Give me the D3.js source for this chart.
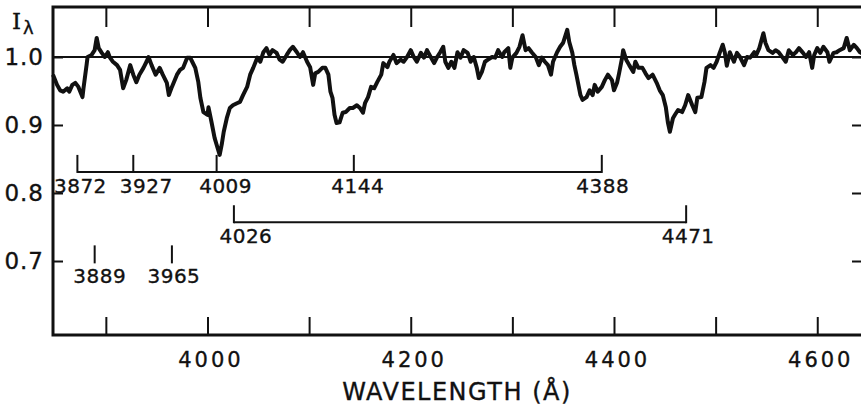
<!DOCTYPE html>
<html>
<head>
<meta charset="utf-8">
<script src="https://cdn.jsdelivr.net/npm/d3@7"></script>
<style>
  body { margin: 0; background: #fff; }
  svg { display: block; }
  text { font-family: "DejaVu Sans", sans-serif; fill: #111; stroke: #111; stroke-width: 0.35px; }
</style>
</head>
<body>
<div id="chart"></div>
<script>
// spectrum (wavelength in angstrom, relative intensity)
let wavelength = [3848,3852,3855,3858,3862,3864,3867,3870,3873,3877,3878,3881,3882,3886,3889,3891,3893,3896,3899,3902,
  3904,3907,3911,3914,3917,3920,3924,3927,3930,3933,3937,3940,3942,3945,3949,3953,3956,3960,3962,3965,
  3970,3973,3976,3980,3983,3985,3988,3991,3993,3996,4000,4001,4004,4007,4009,4012,4014,4016,4019,4022,
  4025,4029,4032,4035,4039,4042,4045,4049,4052,4055,4058,4061,4064,4068,4071,4074,4078,4081,4084,4088,
  4091,4094,4098,4101,4104,4106,4109,4113,4116,4119,4121,4123,4125,4127,4130,4133,4136,4140,4143,4147,
  4150,4153,4155,4158,4161,4164,4167,4171,4173,4177,4179,4183,4186,4190,4193,4196,4200,4203,4206,4210,
  4213,4216,4220,4223,4226,4229,4232,4234,4237,4240,4243,4246,4249,4252,4256,4259,4262,4265,4267,4270,
  4273,4276,4280,4283,4286,4290,4292,4296,4298,4300,4304,4307,4310,4313,4316,4319,4323,4326,4329,4332,
  4335,4338,4340,4344,4347,4350,4354,4356,4359,4361,4363,4365,4367,4369,4373,4376,4379,4381,4384,4388,
  4391,4394,4398,4400,4403,4405,4408,4409,4412,4415,4419,4421,4424,4428,4431,4434,4438,4442,4445,4448,
  4451,4453,4455,4458,4460,4463,4467,4470,4473,4477,4480,4482,4486,4489,4491,4495,4498,4501,4504,4507,
  4509,4511,4514,4518,4521,4524,4528,4531,4534,4538,4540,4543,4547,4549,4552,4556,4559,4562,4566,4569,
  4572,4576,4579,4582,4586,4589,4592,4595,4597,4600,4603,4606,4610,4612,4616,4619,4622,4626,4629,4632,
  4636,4639,4642,4646];
let intensity = [0.974,0.959,0.951,0.949,0.954,0.949,0.959,0.962,0.956,0.941,0.954,0.988,1.000,1.003,1.010,1.028,1.013,1.006,1.000,1.007,
  0.999,0.993,0.988,0.981,0.954,0.966,0.988,0.974,0.963,0.974,0.984,0.993,1.000,0.988,0.974,0.984,0.974,0.962,0.944,0.956,
  0.974,0.981,0.984,0.999,0.999,0.993,0.984,0.963,0.940,0.919,0.915,0.926,0.904,0.881,0.871,0.856,0.871,0.890,0.910,0.925,
  0.929,0.932,0.934,0.944,0.956,0.974,0.984,0.999,0.993,1.007,1.013,1.003,1.010,1.006,0.996,0.993,1.003,1.010,1.015,1.007,
  1.000,1.007,0.993,0.985,0.959,0.976,0.978,0.984,0.984,0.974,0.949,0.940,0.915,0.903,0.904,0.918,0.919,0.925,0.925,0.929,
  0.925,0.918,0.932,0.941,0.956,0.954,0.963,0.974,0.991,0.985,0.993,1.003,0.991,0.996,0.993,0.999,1.010,1.000,0.993,1.006,
  0.999,1.010,0.999,0.991,1.000,1.007,1.015,0.993,0.984,0.993,0.984,1.007,0.999,1.010,1.006,0.993,1.000,0.984,0.969,0.978,
  0.993,0.996,1.000,0.999,1.010,1.000,1.007,1.013,0.984,0.999,1.006,1.015,1.032,1.010,1.013,1.007,1.000,0.988,0.999,0.993,
  0.988,0.974,0.993,1.007,1.015,1.021,1.040,1.022,1.006,0.988,0.974,0.959,0.944,0.937,0.941,0.951,0.944,0.959,0.949,0.956,
  0.966,0.974,0.966,0.951,0.962,0.976,0.999,1.010,0.996,0.988,0.978,0.993,0.984,0.984,0.976,0.969,0.974,0.962,0.951,0.944,
  0.926,0.904,0.890,0.910,0.915,0.922,0.919,0.929,0.944,0.929,0.919,0.940,0.941,0.963,0.984,0.988,0.984,0.993,1.006,1.018,
  1.007,0.987,1.007,0.993,1.006,1.000,0.988,1.000,0.999,1.007,1.003,1.013,1.035,1.021,1.010,1.006,1.010,1.007,0.999,0.993,
  1.010,1.003,1.007,1.013,1.006,1.000,1.007,0.984,1.003,1.013,1.006,1.015,1.007,0.993,1.006,1.007,1.010,1.013,1.028,1.010,
  1.018,1.013,1.007,1.004];

// line identifications
let seriesA = [3872, 3927, 4009, 4144, 4388];
let seriesB = [4026, 4471];
let singles = [3889, 3965];

let xTicks = [3900, 4000, 4100, 4200, 4300, 4400, 4500, 4600];
let xLabels = [4000, 4200, 4400, 4600];
let yTicks = [0.7, 0.8, 0.9, 1.0];

const W = 861, H = 406;
const plotL = 53, plotR = 864, plotT = 7, plotB = 335;

let svg = d3.select("#chart").append("svg")
  .attr("width", W).attr("height", H);

let x = d3.scaleLinear().domain([3848, 4646]).range([plotL, plotR]);
let y = d3.scaleLinear().domain([0.5912, 1.0735]).range([plotB, plotT]);

// frame
svg.append("rect")
  .attr("x", plotL).attr("y", plotT)
  .attr("width", plotR - plotL).attr("height", plotB - plotT)
  .attr("fill", "none").attr("stroke", "#111").attr("stroke-width", 3);

// continuum at 1.0
svg.append("line")
  .attr("x1", plotL).attr("x2", plotR)
  .attr("y1", y(1.0)).attr("y2", y(1.0))
  .attr("stroke", "#111").attr("stroke-width", 2);

function styleAxis(g) {
  g.select(".domain").remove();
  g.selectAll(".tick line").attr("stroke", "#111").attr("stroke-width", 2);
}

// bottom axis
svg.append("g")
  .attr("transform", "translate(0," + plotB + ")")
  .call(d3.axisBottom(x).tickValues(xTicks).tickSize(-18).tickPadding(17)
    .tickFormat(d => xLabels.includes(d) ? d : ""))
  .call(styleAxis)
  .call(g => g.selectAll("text").attr("font-size", 21).attr("letter-spacing", 3)
    .attr("dx", 3).attr("font-family", "DejaVu Sans").attr("fill", "#111"));

// top axis
svg.append("g")
  .attr("transform", "translate(0," + plotT + ")")
  .call(d3.axisTop(x).tickValues(xTicks).tickSize(-20).tickFormat(""))
  .call(styleAxis);

// left axis
svg.append("g")
  .attr("transform", "translate(" + plotL + ",0)")
  .call(d3.axisLeft(y).tickValues(yTicks).tickSize(-10).tickPadding(9).tickFormat(d3.format(".1f")))
  .call(styleAxis)
  .call(g => g.selectAll("text").attr("font-size", 23).attr("letter-spacing", 1)
    .attr("font-family", "DejaVu Sans").attr("fill", "#111"));

// right axis
svg.append("g")
  .attr("transform", "translate(" + plotR + ",0)")
  .call(d3.axisRight(y).tickValues(yTicks).tickSize(-12).tickFormat(""))
  .call(styleAxis);

// spectrum
let pts = wavelength.map((w, i) => [w, intensity[i]]);
svg.append("path")
  .datum(pts)
  .attr("fill", "none")
  .attr("stroke", "#111")
  .attr("stroke-width", 4)
  .attr("stroke-linejoin", "round")
  .attr("d", d3.line().x(d => x(d[0])).y(d => y(d[1])));

// identification brackets
let nudge = {3872: 3, 3927: 13, 4009: 9, 4144: 4, 4388: 1, 4026: 12, 4471: 2, 3889: 5, 3965: 2};

function bracket(list, level, withBar) {
  let g = svg.append("g");
  let yb = y(level);
  if (withBar) {
    g.append("line")
      .attr("x1", x(d3.min(list))).attr("x2", x(d3.max(list)))
      .attr("y1", yb).attr("y2", yb)
      .attr("stroke", "#111").attr("stroke-width", 2);
  }
  g.selectAll("line.tk").data(list).enter().append("line")
    .attr("class", "tk")
    .attr("x1", d => x(d)).attr("x2", d => x(d))
    .attr("y1", yb - 17).attr("y2", yb + 1)
    .attr("stroke", "#111").attr("stroke-width", 2);
  g.selectAll("text").data(list).enter().append("text")
    .attr("x", d => x(d) + nudge[d])
    .attr("y", yb + 21)
    .attr("text-anchor", "middle")
    .attr("font-size", 20)
    .attr("letter-spacing", 0.5)
    .text(d => d);
}
bracket(seriesA, 0.831, true);
bracket(seriesB, 0.757, true);
bracket(singles, 0.698, false);

// y label
let yl = svg.append("text").attr("x", 12).attr("y", 29);
yl.append("tspan").attr("font-family", "DejaVu Serif").attr("font-size", 23).text("I");
yl.append("tspan").attr("font-size", 18).attr("dy", 5).attr("dx", 2).text("λ");

// x label
svg.append("text")
  .attr("x", 457).attr("y", 400)
  .attr("text-anchor", "middle")
  .attr("font-size", 24)
  .attr("letter-spacing", 1.5)
  .text("WAVELENGTH (Å)");
</script>
</body>
</html>
